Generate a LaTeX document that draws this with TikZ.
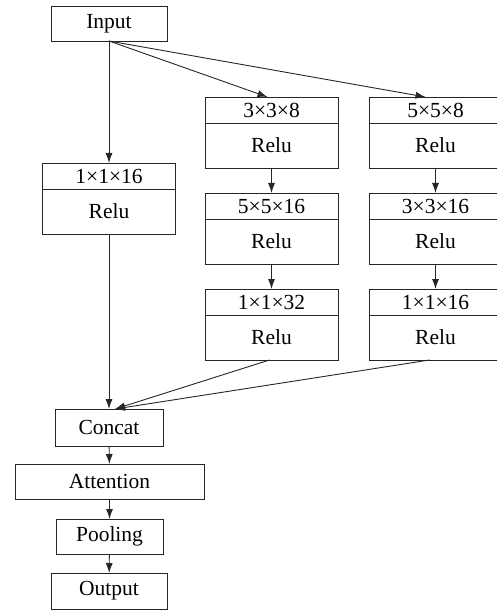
\documentclass[tikz,border=0pt]{standalone}
\usepackage{fontspec}
\setmainfont{Liberation Serif}
\usetikzlibrary{arrows.meta}
\tikzstyle{block} = [rectangle, draw=black!85, line width=0.9pt, inner sep=0pt, outer sep=0pt, font=\fontsize{21.5}{25}\selectfont]
\tikzstyle{part} = [block, minimum width=133pt]
\tikzstyle{flow} = [draw=black!85, line width=0.9pt, -{Latex[length=10pt,width=7pt]}]
\newcommand{\convbox}[4]{%
  \node [part, minimum height=26pt, anchor=north] (#1t) at (#2,#3) {#4};
  \node [part, draw=none, minimum height=45pt, anchor=north] (#1b) at (#1t.south) {Relu};
  \draw [black!85, line width=0.9pt] (#1t.south west) |- (#1b.south east) -- (#1t.south east);
}

\begin{document}
\begin{tikzpicture}[x=1pt, y=-1pt]
				\useasboundingbox (0,0) rectangle (497,612);
				\node [block, minimum width=116pt, minimum height=35pt] (input) at (109,23.5) {Input};
				% branches
				\convbox{l1}{109}{163}{1×1×16}
				\convbox{m1}{271.5}{97}{3×3×8}
				\convbox{m2}{271.5}{193}{5×5×16}
				\convbox{m3}{271.5}{289}{1×1×32}
				\convbox{r1}{435.5}{97}{5×5×8}
				\convbox{r2}{435.5}{193}{3×3×16}
				\convbox{r3}{435.5}{289}{1×1×16}
				% head
				\node [block, minimum width=108pt, minimum height=37pt] (concat) at (109,427.5) {Concat};
				\node [block, minimum width=189pt, minimum height=35pt] (attention) at (109.5,481.5) {Attention};
				\node [block, minimum width=107pt, minimum height=35pt] (pooling) at (109.5,536.5) {Pooling};
				\node [block, minimum width=116pt, minimum height=36pt] (output) at (109,591) {Output};

				\draw [flow] (input.south) -- (l1t.north);
				\draw [flow] (input.south) -- ([xshift=-4pt]m1t.north);
				\draw [flow] (input.south) -- ([xshift=-10pt]r1t.north);
				\draw [flow] (m1b) -- (m2t);
				\draw [flow] (m2b) -- (m3t);
				\draw [flow] (r1b.south) -- (r2t.north);
				\draw [flow] (r2b.south) -- (r3t.north);
				\draw [flow] (l1b.south) -- (concat.north);
				\draw [flow] ([xshift=-2pt]m3b.south) -- ([xshift=6pt]concat.north);
				\draw [flow] ([xshift=-6pt]r3b.south) -- ([xshift=6pt]concat.north);
				\draw [flow] (concat) -- (attention);
				\draw [flow] (attention) -- (pooling);
				\draw [flow] (pooling) -- (output);
			\end{tikzpicture}
\end{document}
